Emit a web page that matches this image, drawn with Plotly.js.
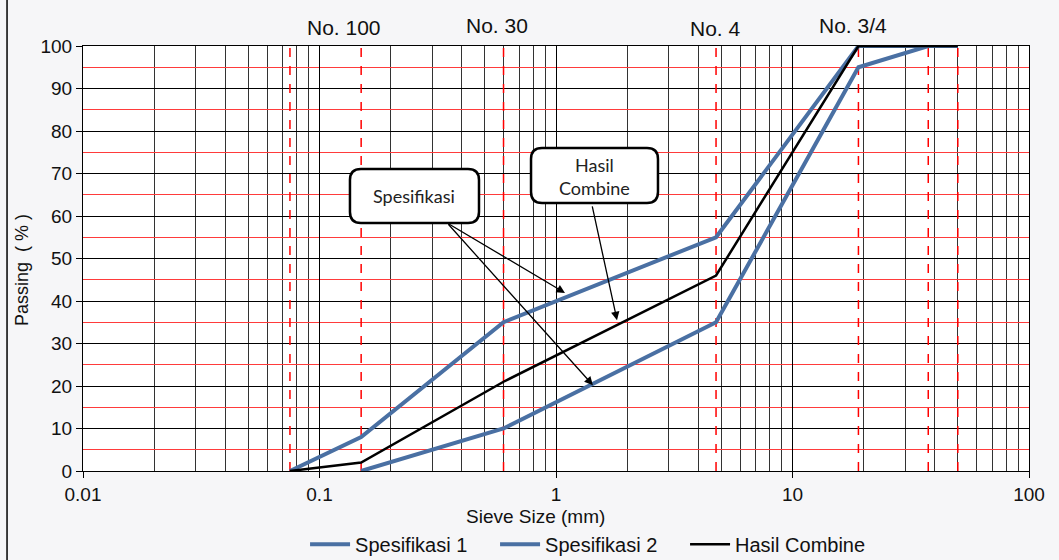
<!DOCTYPE html>
<html>
<head>
<meta charset="utf-8">
<script src="https://cdn.plot.ly/plotly-3.0.1.min.js"></script>
<style>html,body{margin:0;padding:0;background:#fff;}#chart{width:1059px;height:560px;}</style>
</head>
<body>
<div id="chart"></div>
<script>
// ---- data ----
const sieveSizes = [0.075, 0.15, 0.6, 4.75, 19, 37.5, 50];
const spes1Sizes = [0.075, 0.15, 0.6, 4.75, 19, 37.5, 50];
const spes1Values = [0, 8, 35, 55, 100, 100, 100];
const spes2Sizes = [0.15, 0.6, 4.75, 19, 37.5, 50];
const spes2Values = [0, 10, 35, 95, 100, 100];
const combineSizes = [0.075, 0.15, 0.6, 4.75, 19, 37.5, 50];
const combineValues = [0, 2, 21, 46, 100, 100, 100];
const xTickVals = [0.01, 0.1, 1, 10, 100];
const xTickText = ['0.01', '0.1', '1', '10', '100'];
const seriesNames = ['Spesifikasi 1', 'Spesifikasi 2', 'Hasil Combine'];
const sieveLabels = ['No. 100', 'No. 30', 'No. 4', 'No. 3/4'];

const FONT = 'Liberation Sans, Arial, sans-serif';
const CALLOUT_FONT = 'Lato, Open Sans, sans-serif';
const BLUE = '#4a70a3';

const traces = [];
sieveSizes.forEach(s => {
  traces.push({x: [s, s], y: [0, 100], mode: 'lines', showlegend: false, hoverinfo: 'skip',
    line: {color: '#ff0000', width: 1.5, dash: 'dash'}});
});
traces.push({x: spes1Sizes, y: spes1Values, name: seriesNames[0], mode: 'lines', line: {color: BLUE, width: 4}});
traces.push({x: spes2Sizes, y: spes2Values, name: seriesNames[1], mode: 'lines', line: {color: BLUE, width: 4}});
traces.push({x: combineSizes, y: combineValues, name: seriesNames[2], mode: 'lines', line: {color: '#000000', width: 2.5}});

function roundRect(x0, y0, x1, y1, rx, ry) {
  return `M ${x0+rx},${y1} L ${x1-rx},${y1} Q ${x1},${y1} ${x1},${y1-ry} L ${x1},${y0+ry} Q ${x1},${y0} ${x1-rx},${y0} L ${x0+rx},${y0} Q ${x0},${y0} ${x0},${y0+ry} L ${x0},${y1-ry} Q ${x0},${y1} ${x0+rx},${y1} Z`;
}
const rx = 11/946, ry = 11/425;

function label(text, x, y, size, extra) {
  return Object.assign({text: text, xref: 'paper', yref: 'paper', x: x, y: y, xanchor: 'center', yanchor: 'middle',
    showarrow: false, font: {family: FONT, size: size, color: '#111'}}, extra || {});
}

const layout = {
  width: 1059, height: 560,
  margin: {l: 83, r: 30, t: 46, b: 89},
  paper_bgcolor: '#f6f6f8',
  plot_bgcolor: '#ffffff',
  font: {family: FONT, color: '#111', size: 18},
  showlegend: true,
  legend: {orientation: 'h', x: 0.536, xanchor: 'center', xref: 'paper', yref: 'container', y: 0.028, yanchor: 'middle',
    font: {family: FONT, size: 20, color: '#111'}, bgcolor: 'rgba(0,0,0,0)', itemwidth: 40,
    entrywidth: 135, entrywidthmode: 'pixels', tracegroupgap: 0},
  xaxis: {
    type: 'log', range: [-2, 2], automargin: false,
    tickmode: 'array', tickvals: xTickVals, ticktext: xTickText,
    ticks: 'outside', ticklen: 6, tickcolor: '#000',
    showgrid: true, gridcolor: '#000', gridwidth: 1,
    minor: {dtick: 'D1', showgrid: true, gridcolor: '#333', gridwidth: 1, ticks: ''},
    showline: true, linecolor: '#000', linewidth: 1, mirror: true,
    zeroline: false,
    tickfont: {family: FONT, size: 19, color: '#111'}
  },
  yaxis: {
    range: [0, 100], dtick: 10, tick0: 0, automargin: false,
    ticks: 'outside', ticklen: 6, tickcolor: '#000',
    showgrid: true, gridcolor: '#000', gridwidth: 1,
    minor: {dtick: 10, tick0: 5, showgrid: true, gridcolor: '#ff3b3b', griddash: 'solid', gridwidth: 1, ticks: ''},
    showline: true, linecolor: '#000', linewidth: 1, mirror: true,
    zeroline: false,
    tickfont: {family: FONT, size: 19, color: '#111'}
  },
  shapes: [
    {type: 'line', xref: 'paper', yref: 'paper', x0: -0.0803, x1: -0.0803, y0: -0.21, y1: 1.11,
      line: {color: '#000', width: 1.5}},
    {type: 'path', xref: 'paper', yref: 'paper', path: roundRect(0.2822, 0.5835, 0.4186, 0.7106, rx, ry),
      fillcolor: '#ffffff', line: {color: '#000', width: 2.5}, layer: 'above'},
    {type: 'path', xref: 'paper', yref: 'paper', path: roundRect(0.4736, 0.6306, 0.6078, 0.76, rx, ry),
      fillcolor: '#ffffff', line: {color: '#000', width: 2.5}, layer: 'above'}
  ],
  annotations: [
    label(sieveLabels[0], 0.276, 1.0447, 21),
    label(sieveLabels[1], 0.4376, 1.049, 21),
    label(sieveLabels[2], 0.669, 1.04, 21),
    label(sieveLabels[3], 0.814, 1.049, 21),
    label('Sieve Size (mm)', 0.478, -0.106, 19),
    label('Passing  ( % )', -0.0645, 0.473, 18, {textangle: -90}),
    label('Spesifikasi', 0.35, 0.647, 18, {font: {family: CALLOUT_FONT, size: 18, color: '#222'}}),
    label('Hasil<br>Combine', 0.541, 0.694, 18, {font: {family: CALLOUT_FONT, size: 18, color: '#222'}}),
    {text: '', x: 0.038, y: 41.9, xref: 'x', yref: 'y', axref: 'x', ayref: 'y', ax: -0.461, ay: 58.4,
      showarrow: true, arrowhead: 2, arrowsize: 1.3, arrowwidth: 1.3, arrowcolor: '#000'},
    {text: '', x: 0.156, y: 20.2, xref: 'x', yref: 'y', axref: 'x', ayref: 'y', ax: -0.461, ay: 58.4,
      showarrow: true, arrowhead: 2, arrowsize: 1.3, arrowwidth: 1.3, arrowcolor: '#000'},
    {text: '', x: 0.258, y: 35.5, xref: 'x', yref: 'y', axref: 'x', ayref: 'y', ax: 0.152, ay: 62.6,
      showarrow: true, arrowhead: 2, arrowsize: 1.3, arrowwidth: 1.3, arrowcolor: '#000'}
  ]
};

Plotly.newPlot('chart', traces, layout, {staticPlot: true, displayModeBar: false});
</script>
</body>
</html>
